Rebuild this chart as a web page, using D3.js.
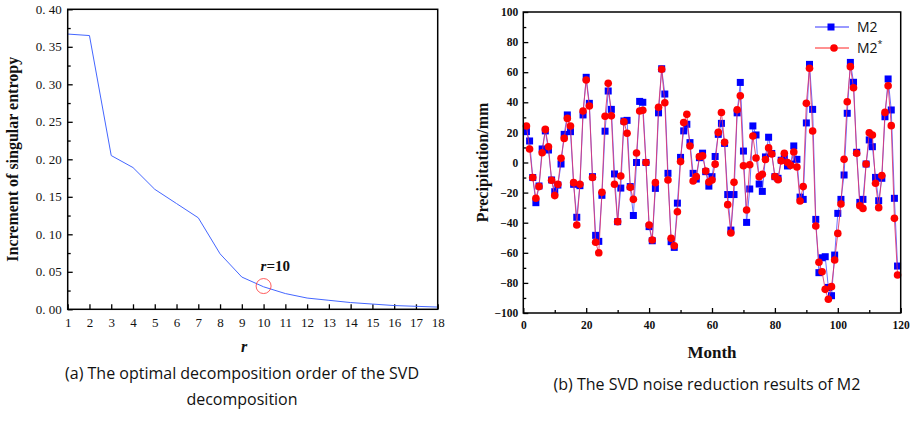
<!DOCTYPE html>
<html>
<head>
<meta charset="utf-8">
<script src="https://cdn.jsdelivr.net/npm/d3@7"></script>
<style>
  body { margin: 0; background: #fff; }
  svg text { fill: #111; }
</style>
</head>
<body>
<div id="chart"></div>
<script>
"use strict";

// (a) increment of singular entropy vs order r
var orders = [1, 2, 3, 4, 5, 6, 7, 8, 9, 10, 11, 12, 13, 14, 15, 16, 17, 18];
var entropyInc = [0.367, 0.365, 0.205, 0.189, 0.160, 0.141, 0.122, 0.074, 0.043, 0.030,
                  0.021, 0.015, 0.012, 0.009, 0.007, 0.005, 0.004, 0.003];
var bestOrder = 10;
var bestValue = 0.031;
var yTicksA = [0, 0.05, 0.10, 0.15, 0.20, 0.25, 0.30, 0.35, 0.40];

// (b) M2 and denoised M2* precipitation by month
var months = d3.range(1, 120);
var m2 = [20.5, 14.3, -10, -26.7, -15.6, 9, 21, 8.3, -11.6, -19.4,
  -15, -1, 18.7, 31.6, 20.5, -14.5, -36.4, -15.4, 31.6, 56.6,
  39.3, -9.4, -48.4, -52.4, -21.8, 20.8, 47.5, 35.3, -7.6, -39.3,
  -17, 27.6, 28, -16, -35.2, 0, 40.6, 40, 0, -42.6,
  -52, -17.2, 33, 62.3, 45.5, -7.2, -52.6, -56.4, -27, 3.4,
  21, 25.4, 13.2, -7.2, -11, 3.2, 6.2, -6.1, -15.7, -9.4,
  4, 18.7, 26, 12.7, -21.3, -44.9, -21.3, 33, 53.2, 7.6,
  -39.8, -17.6, 24.3, 18.3, -14.3, -19.2, 3.7, 16.8, 6, -9.4,
  -10.5, 1.5, 3, -2.3, -1, 11, 2.1, -23, -24.5, 26.3,
  65.2, 35.3, -37.8, -73.2, -63.3, -62.6, -83, -88.5, -61.5, -33.8,
  -24.5, -8.3, 32.7, 66.5, 53.3, 6.8, -26.5, -24.5, -1, 15,
  10.5, -9.9, -25.4, -10.5, 30.4, 55.5, 34.9, -23.8, -68.8];
var m2star = [24.3, 9, -10, -23.8, -16, 6.5, 22, 10.5, -11.8, -22,
  -14.5, 2.8, 16, 29.3, 24.3, -13.4, -41.5, -14.5, 34.2, 54.8,
  37.5, -9.9, -53, -60, -19.8, 30.7, 52.6, 31, -14.5, -39.3,
  -9, 27.1, 19.4, -16.5, -24.5, 6.3, 34.2, 34.7, 0, -41.5,
  -51.5, -13.4, 36.7, 62, 39.7, -11.6, -50.4, -55.3, -32.7, 0.6,
  26.5, 32, 11, -12.3, -9.4, 3.9, 4.4, -5.6, -13, -11.6,
  -1.1, 20, 33.2, 13.4, -28, -46.8, -13.2, 35, 44.3, -2.2,
  -31.6, -1.5, 17.6, 3, -9.4, -7.8, 2, 9.7, 5.6, -9.4,
  -11.4, 1.1, 6.1, 0, -1.9, 7, -3, -25.6, -16, 39.3,
  62.6, 20.9, -42.2, -66.3, -72.6, -84.3, -90.9, -82.5, -64.8, -47.1,
  -27.6, 2.1, 40.4, 63.7, 49.7, 6.1, -28.7, -30.5, -1, 19.8,
  18.3, -13.8, -30, -8.7, 33.3, 51, 24.5, -37.1, -74.8];
var xTicksB = [0, 20, 40, 60, 80, 100, 120];
var yTicksB = [-100, -80, -60, -40, -20, 0, 20, 40, 60, 80, 100];

var serif = "'Liberation Serif', 'Times New Roman', serif";
var sans = "'Open Sans', 'Noto Sans', sans-serif";

var svg = d3.select("#chart").append("svg")
    .attr("width", 914)
    .attr("height", 432);

// ---------- chart (a) ----------
var a = {left: 67.7, right: 437.7, top: 9.3, bottom: 309.3};

var xa = d3.scaleLinear().domain([1, 18]).range([a.left, a.right]);
var ya = d3.scaleLinear().domain([0, 0.40]).range([a.bottom, a.top]);

var ga = svg.append("g");

// minor ticks
ga.append("g")
    .attr("transform", "translate(" + a.left + ",0)")
    .call(d3.axisLeft(ya).tickValues(d3.range(0.025, 0.4, 0.05)).tickSize(-3).tickFormat(""))
    .call(g => g.select(".domain").remove());

ga.append("g")
    .attr("transform", "translate(" + a.left + ",0)")
    .call(d3.axisLeft(ya).tickValues(yTicksA).tickSize(-5).tickPadding(6)
      .tickFormat(d => d3.format(".2f")(d).replace(".", ". ")))
    .attr("font-family", serif).attr("font-size", 13)
    .call(g => g.select(".domain").remove())
    .call(g => g.selectAll("text").style("white-space", "pre"));

ga.append("g")
    .attr("transform", "translate(0," + a.bottom + ")")
    .call(d3.axisBottom(xa).tickValues(orders).tickSize(-5).tickPadding(8).tickFormat(d3.format("d")))
    .attr("font-family", serif).attr("font-size", 13)
    .call(g => g.select(".domain").remove());

ga.selectAll(".tick line").attr("stroke", "#000").attr("stroke-width", 1.3);

ga.append("path")
    .datum(orders)
    .attr("fill", "none")
    .attr("stroke", "#4466ff")
    .attr("stroke-width", 1)
    .attr("d", d3.line().x(d => xa(d)).y((d, i) => ya(entropyInc[i])));

ga.append("circle")
    .attr("cx", xa(bestOrder))
    .attr("cy", ya(bestValue))
    .attr("r", 7.5)
    .attr("fill", "none")
    .attr("stroke", "#ff3333")
    .attr("stroke-width", 0.8);

var lab = ga.append("text")
    .attr("x", xa(bestOrder) - 3)
    .attr("y", ya(bestValue) - 15)
    .attr("font-family", serif)
    .attr("font-weight", "bold")
    .attr("font-size", 15);
lab.append("tspan").attr("font-style", "italic").text("r");
lab.append("tspan").text("=10");

ga.append("rect")
    .attr("x", a.left).attr("y", a.top)
    .attr("width", a.right - a.left).attr("height", a.bottom - a.top)
    .attr("fill", "none").attr("stroke", "#000").attr("stroke-width", 1.5);

ga.append("text")
    .attr("transform", "translate(18," + ((a.top + a.bottom) / 2) + ") rotate(-90)")
    .attr("text-anchor", "middle")
    .attr("font-family", serif)
    .attr("font-weight", "bold")
    .attr("font-size", 16)
    .text("Increment of singular entropy");

ga.append("text")
    .attr("x", 244).attr("y", 352)
    .attr("text-anchor", "middle")
    .attr("font-family", serif)
    .attr("font-weight", "bold")
    .attr("font-style", "italic")
    .attr("font-size", 16)
    .text("r");

ga.append("text")
    .attr("x", 242).attr("y", 379)
    .attr("text-anchor", "middle")
    .attr("font-family", sans)
    .attr("font-size", 16)
    .text("(a) The optimal decomposition order of the SVD");
ga.append("text")
    .attr("x", 242).attr("y", 405)
    .attr("text-anchor", "middle")
    .attr("font-family", sans)
    .attr("font-size", 16)
    .text("decomposition");

// ---------- chart (b) ----------
var b = {left: 523.3, right: 900.7, top: 12, bottom: 313};

var xb = d3.scaleLinear().domain([0, 120]).range([b.left, b.right]);
var yb = d3.scaleLinear().domain([-100, 100]).range([b.bottom, b.top]);

var gb = svg.append("g");

gb.append("g")
    .attr("transform", "translate(" + b.left + ",0)")
    .call(d3.axisLeft(yb).tickValues(d3.range(-90, 100, 20)).tickSize(-3).tickFormat(""))
    .call(g => g.select(".domain").remove());
gb.append("g")
    .attr("transform", "translate(" + b.left + ",0)")
    .call(d3.axisLeft(yb).tickValues(yTicksB).tickSize(-5).tickPadding(5).tickFormat(d3.format("d")))
    .attr("font-family", serif).attr("font-weight", "bold").attr("font-size", 11.5)
    .call(g => g.select(".domain").remove());

gb.append("g")
    .attr("transform", "translate(0," + b.bottom + ")")
    .call(d3.axisBottom(xb).tickValues(d3.range(10, 120, 20)).tickSize(-3).tickFormat(""))
    .call(g => g.select(".domain").remove());
gb.append("g")
    .attr("transform", "translate(0," + b.bottom + ")")
    .call(d3.axisBottom(xb).tickValues(xTicksB).tickSize(-5).tickPadding(8).tickFormat(d3.format("d")))
    .attr("font-family", serif).attr("font-weight", "bold").attr("font-size", 11.5)
    .call(g => g.select(".domain").remove());

gb.selectAll(".tick line").attr("stroke", "#000").attr("stroke-width", 1.3);

var lineB = d3.line().x((d, i) => xb(months[i])).y(d => yb(d));

gb.append("path")
    .datum(m2)
    .attr("fill", "none")
    .attr("stroke", "#6f6fff")
    .attr("stroke-width", 1)
    .attr("d", lineB);

gb.selectAll(".sq")
    .data(m2)
    .join("rect")
    .attr("class", "sq")
    .attr("x", (d, i) => xb(months[i]) - 3.5)
    .attr("y", d => yb(d) - 3.5)
    .attr("width", 7)
    .attr("height", 7)
    .attr("fill", "#0000ff");

gb.append("path")
    .datum(m2star)
    .attr("fill", "none")
    .attr("stroke", "#e0306a")
    .attr("stroke-width", 1)
    .attr("opacity", 0.85)
    .attr("d", lineB);

gb.selectAll(".dot")
    .data(m2star)
    .join("circle")
    .attr("class", "dot")
    .attr("cx", (d, i) => xb(months[i]))
    .attr("cy", d => yb(d))
    .attr("r", 3.8)
    .attr("fill", "#ff0000");

gb.append("rect")
    .attr("x", b.left).attr("y", b.top)
    .attr("width", b.right - b.left).attr("height", b.bottom - b.top)
    .attr("fill", "none").attr("stroke", "#000").attr("stroke-width", 1.5);

// legend
var leg = gb.append("g");
leg.append("line").attr("x1", 815).attr("x2", 849).attr("y1", 27).attr("y2", 27)
    .attr("stroke", "#3333ff").attr("stroke-width", 1);
leg.append("rect").attr("x", 831 - 3.5).attr("y", 27 - 3.5).attr("width", 7).attr("height", 7)
    .attr("fill", "#0000ff");
leg.append("text").attr("x", 857).attr("y", 32)
    .attr("font-family", sans).attr("font-size", 14).text("M2");
leg.append("line").attr("x1", 815).attr("x2", 849).attr("y1", 48).attr("y2", 48)
    .attr("stroke", "#ff2222").attr("stroke-width", 1);
leg.append("circle").attr("cx", 834).attr("cy", 48).attr("r", 3.8).attr("fill", "#ff0000");
var lt = leg.append("text").attr("x", 857).attr("y", 53)
    .attr("font-family", sans).attr("font-size", 14);
lt.append("tspan").text("M2");
lt.append("tspan").attr("font-size", 9).attr("dy", -6).text("*");

gb.append("text")
    .attr("transform", "translate(488," + ((b.top + b.bottom) / 2) + ") rotate(-90)")
    .attr("text-anchor", "middle")
    .attr("font-family", serif)
    .attr("font-weight", "bold")
    .attr("font-size", 16)
    .text("Precipitation/mm");

gb.append("text")
    .attr("x", (b.left + b.right) / 2).attr("y", 358)
    .attr("text-anchor", "middle")
    .attr("font-family", serif)
    .attr("font-weight", "bold")
    .attr("font-size", 17)
    .text("Month");

gb.append("text")
    .attr("x", 707).attr("y", 390)
    .attr("text-anchor", "middle")
    .attr("font-family", sans)
    .attr("font-size", 16)
    .text("(b) The SVD noise reduction results of M2");
</script>
</body>
</html>
